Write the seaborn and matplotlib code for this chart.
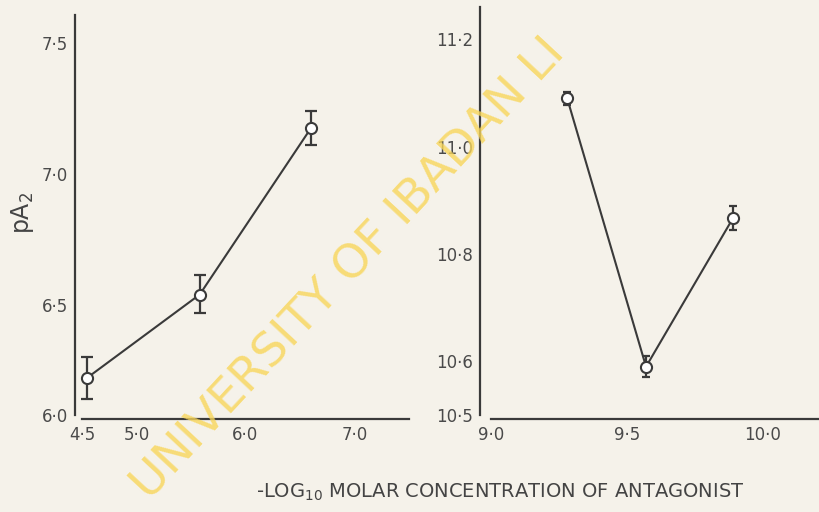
import numpy as np
import pandas as pd
import matplotlib
matplotlib.use("Agg")
import matplotlib.pyplot as plt
import seaborn as sns

# ---- data ----
left_x = [4.55, 5.58, 6.60]
left_y = [6.17, 6.54, 7.175]
left_err = [0.095, 0.075, 0.065]

right_x = [9.28, 9.57, 9.89]
right_y = [11.09, 10.59, 10.867]
right_err = [0.012, 0.02, 0.022]

left_xticks = [4.5, 5.0, 6.0, 7.0]
left_xticklabels = ["4·5", "5·0", "6·0", "7·0"]
left_yticks = [6.0, 6.5, 7.0, 7.5]
left_yticklabels = ["6·0", "6·5", "7·0", "7·5"]

right_xticks = [9.0, 9.5, 10.0]
right_xticklabels = ["9·0", "9·5", "10·0"]
right_yticks = [10.5, 10.6, 10.8, 11.0, 11.2]
right_yticklabels = ["10·5", "10·6", "10·8", "11·0", "11·2"]

xlabel_text = r"-LOG$_{10}$ MOLAR CONCENTRATION OF ANTAGONIST"
ylabel_text = r"pA$_2$"
watermark = "UNIVERSITY OF IBADAN LI"

sns.set_theme(style="white")
plt.rcParams["font.family"] = ["DejaVu Sans"]
plt.rcParams["mathtext.fontset"] = "dejavusans"

ink = "#3a3a3a"
paper = "#f5f2ea"

fig = plt.figure(figsize=(8.19, 5.12), dpi=100, facecolor=paper)

# hand-drawn left axis: bottom section (6.0-6.5) compressed
brk_v = [4.0, 6.0, 6.5, 7.5, 10.0]
brk_p = [-440, 0, 110, 372, 1027]
fwd = lambda v: np.interp(v, brk_v, brk_p)
inv = lambda p: np.interp(p, brk_p, brk_v)

axL = fig.add_axes([75 / 819, 1 - 415 / 512, (409 - 75) / 819, (415 - 15) / 512])
axR = fig.add_axes([480 / 819, 1 - 415 / 512, (819 - 480) / 819, (415 - 7) / 512])

dfL = pd.DataFrame({"x": left_x, "y": left_y})
dfR = pd.DataFrame({"x": right_x, "y": right_y})

for ax, df, err, cap in [(axL, dfL, left_err, 4.5), (axR, dfR, right_err, 3.0)]:
    ax.set_facecolor("none")
    ax.errorbar(df["x"], df["y"], yerr=err, fmt="none", ecolor=ink,
                elinewidth=1.6, capsize=cap, capthick=1.6, zorder=3)
    sns.lineplot(data=df, x="x", y="y", ax=ax, color=ink, linewidth=1.5,
                 marker="o", markersize=8, markerfacecolor="white",
                 markeredgecolor=ink, markeredgewidth=1.5, zorder=4)
    ax.set_xlabel("")
    ax.set_ylabel("")
    for s in ["top", "right"]:
        ax.spines[s].set_visible(False)
    for s in ["left", "bottom"]:
        ax.spines[s].set_color(ink)
        ax.spines[s].set_linewidth(1.6)
    ax.spines["bottom"].set_position(("outward", 3))
    ax.tick_params(axis="both", colors=ink, labelcolor="#4a4a4a", labelsize=12,
                   direction="out", length=4, width=1.4, pad=1)

axL.set_yscale("function", functions=(fwd, inv))
axL.set_xlim(4.5 - 7 / 109, 4.5 + 334 / 109 - 7 / 109)
axL.set_ylim(6.0, 7.607)
axL.set_xticks(left_xticks)
axL.set_xticklabels(left_xticklabels)
axL.set_yticks(left_yticks)
axL.set_yticklabels(left_yticklabels)
axL.minorticks_off()
axL.spines["bottom"].set_bounds(4.5, 7.5)

axR.set_xlim(9.0 - 11 / 272, 9.0 + 328 / 272)
axR.set_ylim(10.5, 11.26)
axR.set_xticks(right_xticks)
axR.set_xticklabels(right_xticklabels)
axR.set_yticks(right_yticks)
axR.set_yticklabels(right_yticklabels)
axR.spines["bottom"].set_bounds(9.0, 9.0 + 328 / 272)

fig.text(500 / 819, 1 - 492 / 512, xlabel_text, ha="center", va="center",
         fontsize=14, color="#444444")
fig.text(22 / 819, 1 - 213 / 512, ylabel_text, ha="center", va="center",
         rotation=90, fontsize=17, color="#444444")

fig.text(150 / 819, 1 - 502 / 512, watermark, ha="left", va="baseline",
         rotation=47, rotation_mode="anchor", fontsize=34, color="#f8d65a",
         alpha=0.8, zorder=0)

fig.savefig("out.png", dpi=100, facecolor=paper)
